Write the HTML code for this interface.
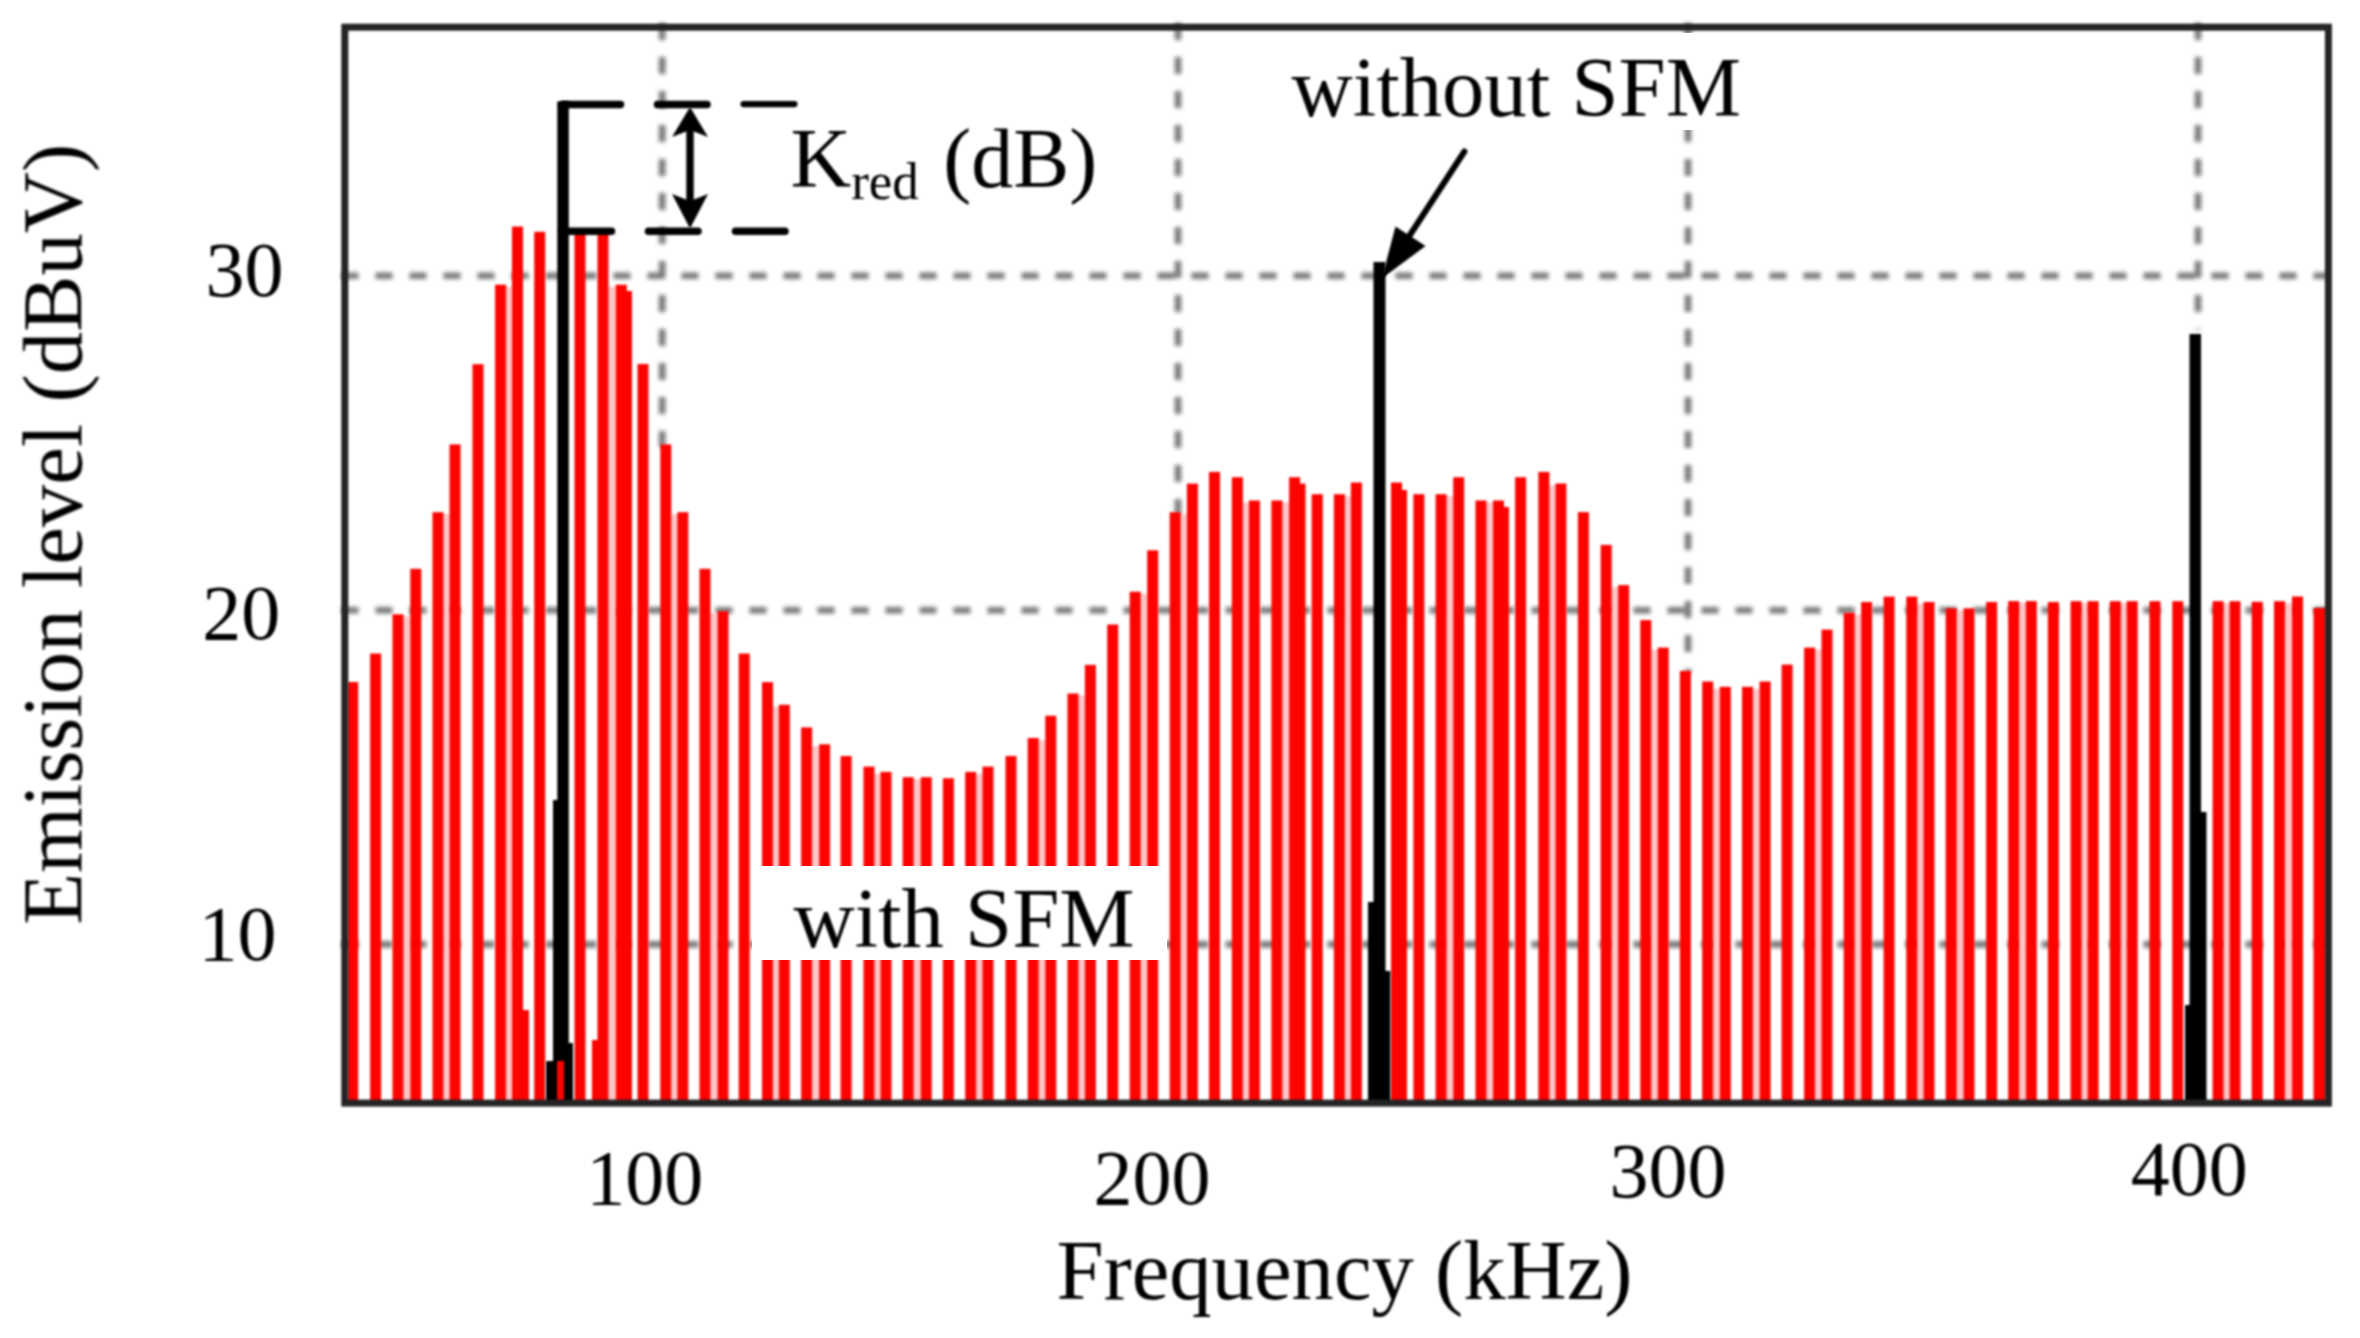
<!DOCTYPE html>
<html lang="en"><head><meta charset="utf-8"><title>Emission level vs Frequency</title>
<style>html,body{margin:0;padding:0;background:#fff}body{width:2360px;height:1338px;overflow:hidden}svg{display:block}text{font-family:"Liberation Serif",serif;fill:#000}</style>
</head><body>
<svg width="2360" height="1338" viewBox="0 0 2360 1338">
<defs><filter id="b" filterUnits="userSpaceOnUse" x="0" y="0" width="2360" height="1338" color-interpolation-filters="sRGB"><feGaussianBlur stdDeviation="1.3"/></filter>
<filter id="b2" filterUnits="userSpaceOnUse" x="0" y="0" width="2360" height="1338" color-interpolation-filters="sRGB"><feGaussianBlur stdDeviation="0.8"/></filter><filter id="b3" filterUnits="userSpaceOnUse" x="0" y="0" width="2360" height="1338" color-interpolation-filters="sRGB"><feGaussianBlur stdDeviation="1.9"/></filter></defs>
<rect width="2360" height="1338" fill="#fff"/>
<g stroke="#7a7a7a" stroke-width="6.6" stroke-dasharray="17 17" fill="none" filter="url(#b3)">
<path d="M341.5 275.8H2328"/>
<path d="M341.5 610.2H2328"/>
<path d="M341.5 944.4H2328"/>
<path d="M662.2 23.1V447"/>
<path d="M1178.0 23.1V515"/>
<path d="M1688.0 23.1V673"/>
<path d="M2198 23.1V330"/>
</g>
<rect x="1280" y="33" width="470" height="97" fill="#fff"/>
<g fill="#ffc6c8" filter="url(#b)">
<rect x="402.5" y="616.3" width="8.8" height="486.7"/>
<rect x="442.5" y="514.2" width="8.0" height="588.8"/>
<rect x="505.1" y="286.7" width="7.9" height="816.3"/>
<rect x="607.5" y="286.7" width="9.3" height="816.3"/>
<rect x="670.3" y="514.2" width="8.0" height="588.8"/>
<rect x="709.5" y="613.1" width="9.0" height="489.9"/>
<rect x="772.0" y="706.8" width="7.8" height="396.2"/>
<rect x="811.1" y="746.3" width="9.0" height="356.7"/>
<rect x="873.5" y="773.9" width="8.0" height="329.1"/>
<rect x="912.7" y="779.2" width="9.0" height="323.8"/>
<rect x="975.2" y="773.9" width="8.3" height="329.1"/>
<rect x="1037.7" y="740.0" width="8.6" height="363.0"/>
<rect x="1077.5" y="695.5" width="8.4" height="407.5"/>
<rect x="1139.7" y="593.7" width="8.5" height="509.3"/>
<rect x="1179.7" y="514.2" width="8.2" height="588.8"/>
<rect x="1241.9" y="502.5" width="8.0" height="600.5"/>
<rect x="1281.4" y="502.5" width="8.7" height="600.5"/>
<rect x="1343.9" y="496.2" width="8.0" height="606.8"/>
<rect x="1445.6" y="496.2" width="8.6" height="606.8"/>
<rect x="1485.5" y="502.5" width="8.5" height="600.5"/>
<rect x="1548.4" y="485.5" width="8.0" height="617.5"/>
<rect x="1610.7" y="587.1" width="8.4" height="515.9"/>
<rect x="1650.3" y="649.6" width="8.4" height="453.4"/>
<rect x="1712.2" y="688.8" width="8.6" height="414.2"/>
<rect x="1752.0" y="688.8" width="8.6" height="414.2"/>
<rect x="1814.1" y="649.6" width="8.4" height="453.4"/>
<rect x="1853.7" y="614.7" width="8.4" height="488.3"/>
<rect x="1916.3" y="604.0" width="8.2" height="499.0"/>
<rect x="1955.7" y="610.3" width="8.8" height="492.7"/>
<rect x="2018.2" y="603.1" width="8.6" height="499.9"/>
<rect x="2080.6" y="603.2" width="8.0" height="499.8"/>
<rect x="2119.8" y="603.2" width="7.9" height="499.8"/>
<rect x="2222.6" y="603.2" width="7.9" height="499.8"/>
<rect x="2284.0" y="603.2" width="9.0" height="499.8"/>
</g>
<g fill="#fd0300" filter="url(#b)">
<rect x="347.2" y="682.0" width="11.0" height="421.0"/>
<rect x="370.1" y="653.5" width="11.0" height="449.5"/>
<rect x="392.5" y="614.3" width="11.0" height="488.7"/>
<rect x="410.3" y="568.8" width="11.0" height="534.2"/>
<rect x="432.5" y="512.2" width="11.0" height="590.8"/>
<rect x="449.5" y="444.4" width="11.0" height="658.6"/>
<rect x="472.5" y="364.2" width="11.0" height="738.8"/>
<rect x="495.1" y="284.7" width="11.0" height="818.3"/>
<rect x="512.0" y="226.5" width="11.0" height="876.5"/>
<rect x="534.2" y="231.8" width="11.0" height="871.2"/>
<rect x="574.5" y="232.0" width="11.0" height="871.0"/>
<rect x="597.5" y="232.0" width="11.0" height="871.0"/>
<rect x="615.8" y="284.7" width="11.0" height="818.3"/>
<rect x="637.5" y="364.0" width="11.0" height="739.0"/>
<rect x="660.3" y="444.4" width="11.0" height="658.6"/>
<rect x="677.3" y="512.2" width="11.0" height="590.8"/>
<rect x="699.5" y="568.8" width="11.0" height="534.2"/>
<rect x="717.5" y="611.1" width="11.0" height="491.9"/>
<rect x="738.7" y="653.5" width="11.0" height="449.5"/>
<rect x="762.0" y="682.1" width="11.0" height="420.9"/>
<rect x="778.8" y="704.8" width="11.0" height="398.2"/>
<rect x="801.1" y="727.4" width="11.0" height="375.6"/>
<rect x="819.1" y="744.3" width="11.0" height="358.7"/>
<rect x="840.6" y="756.0" width="11.0" height="347.0"/>
<rect x="863.5" y="766.6" width="11.0" height="336.4"/>
<rect x="880.5" y="771.9" width="11.0" height="331.1"/>
<rect x="902.7" y="777.2" width="11.0" height="325.8"/>
<rect x="920.7" y="777.2" width="11.0" height="325.8"/>
<rect x="942.9" y="778.2" width="11.0" height="324.8"/>
<rect x="965.2" y="771.9" width="11.0" height="331.1"/>
<rect x="982.5" y="766.6" width="11.0" height="336.4"/>
<rect x="1005.5" y="756.0" width="11.0" height="347.0"/>
<rect x="1027.7" y="738.0" width="11.0" height="365.0"/>
<rect x="1045.3" y="715.7" width="11.0" height="387.3"/>
<rect x="1067.5" y="693.5" width="11.0" height="409.5"/>
<rect x="1084.9" y="664.9" width="11.0" height="438.1"/>
<rect x="1107.2" y="624.5" width="11.0" height="478.5"/>
<rect x="1129.7" y="591.7" width="11.0" height="511.3"/>
<rect x="1147.2" y="550.3" width="11.0" height="552.7"/>
<rect x="1169.7" y="512.2" width="11.0" height="590.8"/>
<rect x="1186.9" y="483.6" width="11.0" height="619.4"/>
<rect x="1209.0" y="471.9" width="11.0" height="631.1"/>
<rect x="1231.9" y="477.2" width="11.0" height="625.8"/>
<rect x="1248.9" y="500.5" width="11.0" height="602.5"/>
<rect x="1271.4" y="500.5" width="11.0" height="602.5"/>
<rect x="1289.1" y="477.2" width="11.0" height="625.8"/>
<rect x="1311.7" y="494.2" width="11.0" height="608.8"/>
<rect x="1333.9" y="494.2" width="11.0" height="608.8"/>
<rect x="1350.9" y="482.5" width="11.0" height="620.5"/>
<rect x="1391.0" y="482.5" width="11.0" height="620.5"/>
<rect x="1413.4" y="494.2" width="11.0" height="608.8"/>
<rect x="1435.6" y="494.2" width="11.0" height="608.8"/>
<rect x="1453.2" y="477.2" width="11.0" height="625.8"/>
<rect x="1475.5" y="500.5" width="11.0" height="602.5"/>
<rect x="1493.0" y="500.5" width="11.0" height="602.5"/>
<rect x="1515.1" y="477.2" width="11.0" height="625.8"/>
<rect x="1538.4" y="471.9" width="11.0" height="631.1"/>
<rect x="1555.4" y="483.5" width="11.0" height="619.5"/>
<rect x="1577.9" y="512.1" width="11.0" height="590.9"/>
<rect x="1600.7" y="544.9" width="11.0" height="558.1"/>
<rect x="1618.1" y="585.1" width="11.0" height="517.9"/>
<rect x="1640.3" y="620.1" width="11.0" height="482.9"/>
<rect x="1657.7" y="647.6" width="11.0" height="455.4"/>
<rect x="1679.9" y="670.9" width="11.0" height="432.1"/>
<rect x="1702.2" y="681.5" width="11.0" height="421.5"/>
<rect x="1719.8" y="686.8" width="11.0" height="416.2"/>
<rect x="1742.0" y="686.8" width="11.0" height="416.2"/>
<rect x="1759.6" y="681.5" width="11.0" height="421.5"/>
<rect x="1781.6" y="664.6" width="11.0" height="438.4"/>
<rect x="1804.1" y="647.6" width="11.0" height="455.4"/>
<rect x="1821.5" y="629.6" width="11.0" height="473.4"/>
<rect x="1843.7" y="612.7" width="11.0" height="490.3"/>
<rect x="1861.1" y="602.0" width="11.0" height="501.0"/>
<rect x="1883.6" y="596.6" width="11.0" height="506.4"/>
<rect x="1906.3" y="596.6" width="11.0" height="506.4"/>
<rect x="1923.5" y="602.0" width="11.0" height="501.0"/>
<rect x="1945.7" y="608.3" width="11.0" height="494.7"/>
<rect x="1963.5" y="608.3" width="11.0" height="494.7"/>
<rect x="1986.1" y="602.0" width="11.0" height="501.0"/>
<rect x="2008.2" y="601.1" width="11.0" height="501.9"/>
<rect x="2025.8" y="601.1" width="11.0" height="501.9"/>
<rect x="2047.9" y="602.0" width="11.0" height="501.0"/>
<rect x="2070.6" y="601.2" width="11.0" height="501.8"/>
<rect x="2087.6" y="601.2" width="11.0" height="501.8"/>
<rect x="2109.8" y="601.2" width="11.0" height="501.8"/>
<rect x="2126.7" y="601.2" width="11.0" height="501.8"/>
<rect x="2149.4" y="601.2" width="11.0" height="501.8"/>
<rect x="2172.3" y="601.2" width="11.0" height="501.8"/>
<rect x="2212.6" y="601.2" width="11.0" height="501.8"/>
<rect x="2229.5" y="601.2" width="11.0" height="501.8"/>
<rect x="2251.7" y="601.8" width="11.0" height="501.2"/>
<rect x="2274.0" y="601.2" width="11.0" height="501.8"/>
<rect x="2292.0" y="596.5" width="11.0" height="506.5"/>
<rect x="2315.3" y="608.2" width="11.0" height="494.8"/>
<rect x="626.0" y="291.0" width="6.0" height="812.0"/>
<rect x="1299.0" y="483.6" width="6.5" height="619.4"/>
<rect x="1401.0" y="490.0" width="6.0" height="613.0"/>
<rect x="1503.0" y="507.0" width="6.0" height="596.0"/>
<rect x="2313.5" y="608.2" width="12.5" height="494.8"/>
<rect x="522.0" y="1010.0" width="7.0" height="93.0"/>
<rect x="592.0" y="1040.0" width="9.0" height="63.0"/>
<rect x="557.0" y="1061.0" width="7.0" height="42.0"/>
</g>
<rect x="752" y="866" width="415" height="94" fill="#fff"/>
<g fill="#000" filter="url(#b)">
<rect x="557.3" y="101.5" width="11.5" height="1001.5"/>
<rect x="553" y="800" width="6" height="303"/>
<rect x="567" y="1043" width="6" height="60"/>
<rect x="546" y="1061" width="11" height="42"/>
<rect x="564" y="1061" width="9" height="42"/>
<rect x="1373.5" y="262" width="12" height="841"/>
<rect x="1368" y="902" width="7" height="201"/>
<rect x="1384" y="971" width="6.5" height="132"/>
<rect x="2189.5" y="334" width="11.5" height="769"/>
<rect x="2199" y="812" width="7.5" height="291"/>
<rect x="2185" y="1005" width="6" height="98"/>
</g>
<rect x="557" y="1061" width="7" height="40" fill="#fd0300" filter="url(#b2)"/>
<g filter="url(#b)"><rect x="344.8" y="27.2" width="1983.6" height="1075.9" fill="none" stroke="#242424" stroke-width="7"/></g>
<g stroke="#000" stroke-width="7.5" stroke-linecap="round" fill="none" filter="url(#b2)">
<path d="M563 104.6H620.5M657.5 104.6H707"/>
<path d="M743.5 104.1H794.5" stroke-width="6.2"/>
<path d="M563 231.2H611.5M648.5 231.2H698M735.5 231.2H785"/>
</g>
<g fill="#000" stroke="none" filter="url(#b2)">
<rect x="686.3" y="125" width="7.4" height="85"/>
<path d="M690 107L708 137L690 130L672 137Z"/>
<path d="M690 228.5L708 194L690 201L672 194Z"/>
<path d="M1464.4 151.5L1408 238" stroke="#000" stroke-width="6" stroke-linecap="round"/>
<path d="M1381.8 278.5L1395.5 226.5L1425.5 246Z"/>
</g>
<g filter="url(#b2)">
<text x="1291.5" y="116.2" font-size="84.7">without SFM</text>
<text x="790.5" y="186.5" font-size="84">K<tspan font-size="53" dy="12.2">red</tspan><tspan dy="-12.2" dx="3.5"> (dB)</tspan></text>
<text x="793.4" y="946.5" font-size="84.7">with SFM</text>
<g font-size="78" text-anchor="middle">
<text x="244.4" y="296.4">30</text>
<text x="241.2" y="638.8">20</text>
<text x="237.4" y="960.2">10</text>
<text x="644.8" y="1204">100</text>
<text x="1151.9" y="1204">200</text>
<text x="1668.1" y="1197.2">300</text>
<text x="2189.3" y="1194.5">400</text>
</g>
<text x="1056.4" y="1298.5" font-size="84.7">Frequency (kHz)</text>
<text transform="translate(81.4 924.7) rotate(-90)" font-size="84.7">Emission level (dBuV)</text>
</g>
</svg>
</body></html>
